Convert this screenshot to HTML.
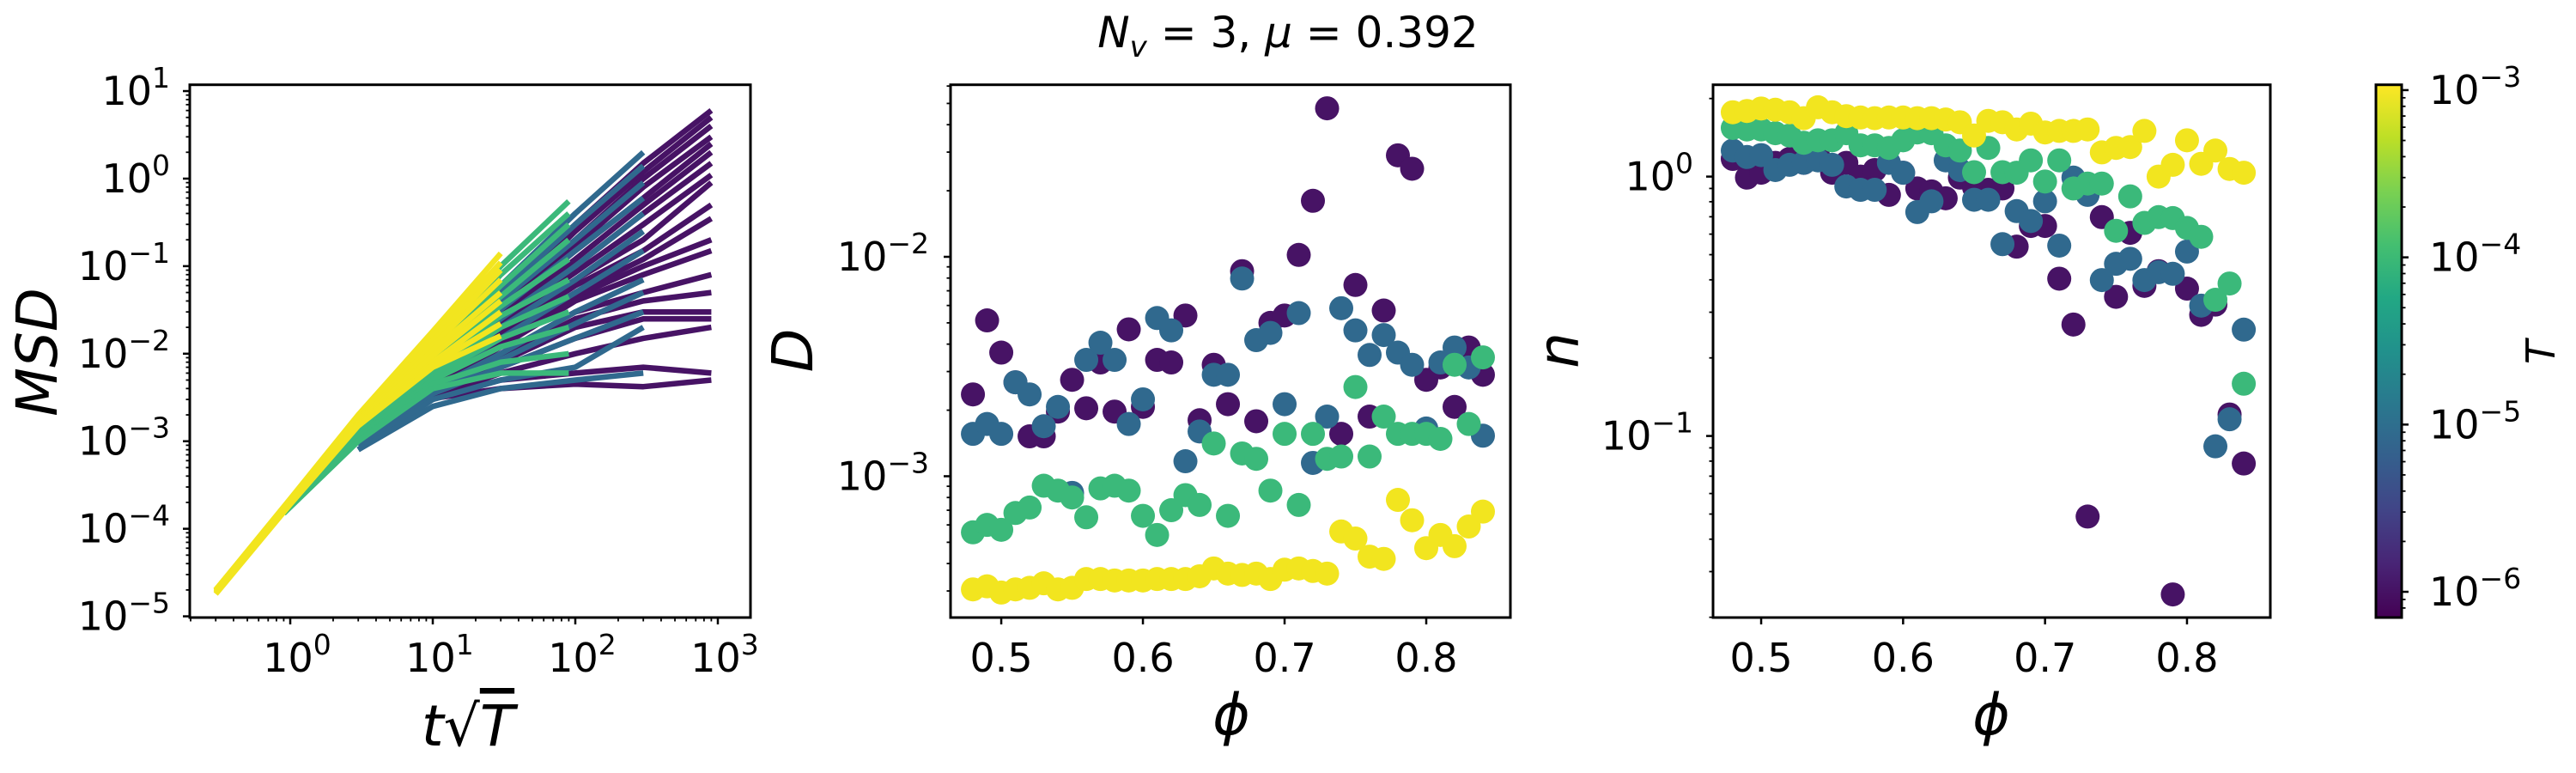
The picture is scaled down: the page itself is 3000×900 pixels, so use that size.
<!DOCTYPE html>
<html><head><meta charset="utf-8"><style>
html,body{margin:0;padding:0;background:#fff;}
svg{display:block;font-family:"DejaVu Sans","Liberation Sans",sans-serif;}
</style></head><body>
<svg id="fig" width="3000" height="900" viewBox="0 0 3000 900" xmlns="http://www.w3.org/2000/svg">
<defs>
<linearGradient id="viridis" x1="0" y1="1" x2="0" y2="0">
<stop offset="0" stop-color="#440154"/><stop offset="0.1" stop-color="#482475"/><stop offset="0.2" stop-color="#414487"/><stop offset="0.3" stop-color="#355f8d"/><stop offset="0.4" stop-color="#2a788e"/><stop offset="0.5" stop-color="#21918c"/><stop offset="0.6" stop-color="#22a884"/><stop offset="0.7" stop-color="#44bf70"/><stop offset="0.8" stop-color="#7ad151"/><stop offset="0.9" stop-color="#bddf26"/><stop offset="1" stop-color="#fde725"/>
</linearGradient>
</defs>
<text x="1500" y="55" font-size="50" text-anchor="middle"><tspan font-style="italic">N</tspan><tspan font-size="34" font-style="italic" dy="11">v</tspan><tspan dy="-11"> = 3, </tspan><tspan font-style="italic">μ</tspan><tspan> = 0.392</tspan></text>
</svg>
<script>
// ---------- data ----------
const colorT = ["#471365", "#30698e", "#3bb97a", "#f2e51f"]; // T = 1e-6,1e-5,1e-4,1e-3
const msdTimesY = [0.3, 1, 3, 10, 30];
const msdYellow = [
 [2e-5,2.2e-4,2e-3,1.8e-2,0.14],[2e-5,2.15e-4,1.95e-3,1.6e-2,0.11],[2e-5,2.1e-4,1.9e-3,1.4e-2,0.09],
 [2e-5,2.05e-4,1.8e-3,1.25e-2,0.07],[2e-5,2e-4,1.7e-3,1.1e-2,0.05],[1.95e-5,2e-4,1.65e-3,9.5e-3,0.04],
 [1.9e-5,2e-4,1.6e-3,8e-3,0.03],[1.85e-5,1.95e-4,1.55e-3,7.5e-3,0.022],[1.8e-5,1.9e-4,1.5e-3,7e-3,0.016]];
const msdTimesG = [0.9, 3, 10, 30, 90];
const msdGreen = [
 [1.6e-4,1.5e-3,1.3e-2,0.1,0.55],[1.6e-4,1.45e-3,1.15e-2,0.08,0.4],[1.6e-4,1.4e-3,1e-2,0.06,0.3],
 [1.6e-4,1.35e-3,9e-3,0.045,0.2],[1.6e-4,1.3e-3,8e-3,0.035,0.12],[1.55e-4,1.25e-3,7e-3,0.027,0.07],
 [1.5e-4,1.2e-3,6e-3,0.02,0.045],[1.5e-4,1.15e-3,5.5e-3,0.015,0.03],[1.5e-4,1.1e-3,5e-3,0.012,0.02],
 [1.5e-4,1e-3,4.5e-3,8e-3,0.01],[1.5e-4,1e-3,4e-3,6e-3,0.006]];
const msdTimesB = [3, 10, 30, 100, 300];
const msdBlue = [
 [1e-3,8e-3,0.06,0.4,2],[1e-3,7.5e-3,0.05,0.3,1.4],[1e-3,7e-3,0.04,0.2,0.9],[1e-3,6.5e-3,0.032,0.15,0.6],
 [1e-3,6e-3,0.025,0.1,0.4],[1e-3,5.5e-3,0.02,0.07,0.25],[1e-3,5e-3,0.015,0.05,0.15],
 [9e-4,4e-3,0.01,0.03,0.07],[9e-4,3.8e-3,8.5e-3,0.022,0.05],[9e-4,3.5e-3,7e-3,0.015,0.03],
 [8e-4,3e-3,5e-3,7e-3,0.02],[8e-4,2.5e-3,4e-3,5e-3,0.006]];
const msdTimesP = [9, 30, 100, 300, 900];
const msdPurple = [
 [5e-3,0.04,0.3,1.5,6],[5e-3,0.038,0.25,1.2,5],[5e-3,0.035,0.2,1,4],[4.8e-3,0.032,0.17,0.8,3],
 [4.5e-3,0.03,0.15,0.6,2.5],[4.5e-3,0.027,0.12,0.5,2],[4.5e-3,0.025,0.1,0.4,1.5],[4.2e-3,0.022,0.085,0.3,1.1],
 [4e-3,0.02,0.07,0.2,0.9],[4e-3,0.017,0.06,0.15,0.5],[4e-3,0.015,0.05,0.12,0.35],[3.8e-3,0.013,0.045,0.1,0.2],
 [3.5e-3,0.012,0.04,0.08,0.15],[3.5e-3,0.01,0.03,0.05,0.08],[3.5e-3,9e-3,0.025,0.04,0.05],
 [3.5e-3,8e-3,0.02,0.03,0.03],[3.2e-3,7e-3,0.015,0.025,0.025],[3e-3,6e-3,0.01,0.015,0.02],
 [3e-3,5e-3,6e-3,7e-3,0.006],[3e-3,4e-3,4.5e-3,4.2e-3,0.005]];

const phi = [0.48,0.49,0.50,0.51,0.52,0.53,0.54,0.55,0.56,0.57,0.58,0.59,0.60,0.61,0.62,0.63,0.64,0.65,0.66,0.67,0.68,0.69,0.70,0.71,0.72,0.73,0.74,0.75,0.76,0.77,0.78,0.79,0.80,0.81,0.82,0.83,0.84];
const dPurple = [2.36e-3,5.13e-3,3.66e-3,2.68e-3,1.52e-3,1.52e-3,1.97e-3,2.75e-3,2.04e-3,3.3e-3,1.97e-3,4.67e-3,2.07e-3,3.39e-3,3.3e-3,5.4e-3,1.8e-3,3.22e-3,2.13e-3,8.6e-3,1.78e-3,5.0e-3,5.4e-3,1.02e-2,1.8e-2,4.75e-2,1.56e-3,7.44e-3,1.87e-3,5.69e-3,2.9e-2,2.52e-2,2.75e-3,3.13e-3,2.07e-3,3.86e-3,2.9e-3];
const dBlue = [1.56e-3,1.73e-3,1.56e-3,2.68e-3,2.36e-3,1.69e-3,2.07e-3,8.4e-4,3.39e-3,4.06e-3,3.39e-3,1.73e-3,2.24e-3,5.26e-3,4.62e-3,1.17e-3,1.6e-3,2.9e-3,2.9e-3,7.96e-3,4.17e-3,4.5e-3,2.13e-3,5.54e-3,1.15e-3,1.87e-3,5.83e-3,4.62e-3,3.57e-3,4.4e-3,3.66e-3,3.22e-3,1.65e-3,3.3e-3,3.86e-3,3.13e-3,1.53e-3];
const dGreen = [5.55e-4,6.0e-4,5.7e-4,6.8e-4,7.2e-4,9.05e-4,8.6e-4,8.0e-4,6.5e-4,8.8e-4,9.05e-4,8.6e-4,6.6e-4,5.4e-4,7.0e-4,8.2e-4,7.4e-4,1.41e-3,6.6e-4,1.27e-3,1.2e-3,8.6e-4,1.56e-3,7.4e-4,1.56e-3,1.2e-3,1.23e-3,2.55e-3,1.23e-3,1.87e-3,1.56e-3,1.56e-3,1.56e-3,1.48e-3,3.22e-3,1.73e-3,3.48e-3];
const dYellow = [3.05e-4,3.15e-4,2.95e-4,3.05e-4,3.1e-4,3.25e-4,3.05e-4,3.1e-4,3.4e-4,3.4e-4,3.35e-4,3.35e-4,3.35e-4,3.4e-4,3.4e-4,3.4e-4,3.5e-4,3.8e-4,3.6e-4,3.55e-4,3.6e-4,3.4e-4,3.75e-4,3.8e-4,3.7e-4,3.6e-4,5.6e-4,5.2e-4,4.3e-4,4.2e-4,7.8e-4,6.3e-4,4.7e-4,5.4e-4,4.8e-4,5.9e-4,6.9e-4];
const nPurple = [1.17,0.991,1.035,1.13,1.17,1.13,1.21,1.035,1.13,1.0,1.06,0.85,1.035,0.9,0.877,0.825,0.991,0.908,0.889,0.9,0.537,0.645,0.645,0.404,0.269,0.0489,0.698,0.344,0.607,0.379,0.432,0.0245,0.37,0.293,0.321,0.121,0.0783];
const nBlue = [1.26,1.19,1.21,1.06,1.11,1.13,1.155,1.11,0.916,0.889,0.889,1.13,1.035,0.73,0.803,1.155,1.06,0.814,0.814,0.549,0.736,0.674,0.803,0.542,0.991,0.85,0.399,0.461,0.482,0.399,0.428,0.422,0.514,0.318,0.0912,0.116,0.257];
const nGreen = [1.54,1.52,1.52,1.47,1.44,1.35,1.38,1.38,1.47,1.32,1.32,1.29,1.38,1.48,1.47,1.32,1.26,1.04,1.29,1.04,1.035,1.155,0.957,1.155,0.9,0.94,0.94,0.618,0.839,0.663,0.698,0.692,0.634,0.586,0.335,0.387,0.159];
const nYellow = [1.77,1.79,1.83,1.81,1.77,1.68,1.85,1.77,1.71,1.69,1.68,1.69,1.69,1.68,1.68,1.66,1.62,1.44,1.64,1.62,1.52,1.6,1.48,1.5,1.5,1.52,1.24,1.29,1.30,1.5,1.0,1.11,1.38,1.12,1.26,1.07,1.035];

const xTicksLog1 = [0,1,2,3];
const yTicksLog1 = [-5,-4,-3,-2,-1,0,1];
const xTicksPhi = [0.5,0.6,0.7,0.8];
const yTicksLog2 = [-3,-2];
const yTicksLog3 = [-1,0];
const cbTicksLog = [-6,-5,-4,-3];

// ---------- helpers ----------
const NS = "http://www.w3.org/2000/svg";
const svg = document.getElementById("fig");
const TICKFS = 46, SUPFS = 33;
function mk(tag, attrs, parent) {
  const e = document.createElementNS(NS, tag);
  for (const k in attrs) e.setAttribute(k, attrs[k]);
  (parent || svg).appendChild(e);
  return e;
}
function logScale(d0, d1, r0, r1) { return v => r0 + (Math.log10(v) - d0) / (d1 - d0) * (r1 - r0); }
function linScale(d0, d1, r0, r1) { return v => r0 + (v - d0) / (d1 - d0) * (r1 - r0); }
function powLabel(parent, x, y, exp, anchor, name) {
  const t = mk("text", {x: x, y: y, "font-size": TICKFS, "text-anchor": anchor}, parent);
  
  
  const a = mk("tspan", {}, t); a.textContent = "10";
  const b = mk("tspan", {"font-size": SUPFS, dy: -20}, t); b.textContent = (exp < 0 ? "\u2212" : "") + Math.abs(exp);
  return t;
}
function frame(name) {
  const g = mk("g", {});
  
  
  return g;
}
function border(g, L, T, R, B) {
  const r = mk("rect", {x: L, y: T, width: R - L, height: B - T, fill: "none", stroke: "#000", "stroke-width": 3}, g);
  
  
}
function logYTicks(g, sy, lo, hi, L, majors, labelX) {
  for (let d = Math.floor(lo); d <= Math.ceil(hi); d++) {
    for (let m = 1; m <= 9; m++) {
      const v = Math.log10(m) + d;
      if (v < lo || v > hi) continue;
      const y = sy(Math.pow(10, v));
      const len = m === 1 ? 8 : 4.5;
      const tk = mk("line", {x1: L, x2: L - len, y1: y, y2: y, stroke: "#000", "stroke-width": m === 1 ? 2.5 : 1.8}, g);
      
      
    }
  }
  majors.forEach(e => powLabel(g, labelX, sy(Math.pow(10, e)) + 16, e, "end", "y-tick-label"));
}
function scatter(g, xs, ys, sx, sy, color, name) {
  xs.forEach((x, i) => {
    const c = mk("circle", {cx: sx(x), cy: sy(ys[i]), r: 14, fill: color}, g);
    
    
  });
}
function phiXTicks(g, sx, B) {
  xTicksPhi.forEach(v => {
    const x = sx(v);
    const tk = mk("line", {x1: x, x2: x, y1: B, y2: B + 8, stroke: "#000", "stroke-width": 2.5}, g);
    
    
    const t = mk("text", {x: x, y: 782, "font-size": TICKFS, "text-anchor": "middle"}, g);
    
    
    t.textContent = v.toFixed(1);
  });
}
function axisLabel(g, x, y, txt, rot, name) {
  const t = mk("text", {x: x, y: y, "font-size": 66, "font-style": "italic", "text-anchor": "middle",
    transform: rot ? `rotate(-90 ${x} ${y})` : ""}, g);
  
  
  t.textContent = txt;
  return t;
}

const T = 98.7, B = 719;

// ---------- panel 1: MSD ----------
(function () {
  const L = 221, R = 874;
  const sx = logScale(-0.705, 3.229, L, R);
  const sy = logScale(-5.014, 1.072, B, T);
  const g = frame("msd-panel");
  const clip = mk("clipPath", {id: "c1"}, g);
  mk("rect", {x: L, y: T, width: R - L, height: B - T}, clip);
  const lg = mk("g", {"clip-path": "url(#c1)"}, g);
  const groups = [[msdTimesP, msdPurple, colorT[0], "msd-line-T1e-6"], [msdTimesB, msdBlue, colorT[1], "msd-line-T1e-5"],
                  [msdTimesG, msdGreen, colorT[2], "msd-line-T1e-4"], [msdTimesY, msdYellow, colorT[3], "msd-line-T1e-3"]];
  groups.forEach(([ts, curves, col, name]) => {
    curves.forEach(c => {
      const d = c.map((v, i) => (i ? "L" : "M") + sx(ts[i]).toFixed(1) + "," + sy(v).toFixed(1)).join(" ");
      const p = mk("path", {d: d, fill: "none", stroke: col, "stroke-width": 6.5, "stroke-linejoin": "round"}, lg);
      
      
    });
  });
  border(g, L, T, R, B);
  logYTicks(g, sy, -5.014, 1.072, L, yTicksLog1, 198);
  for (let d = -1; d <= 3; d++) for (let m = 1; m <= 9; m++) {
    const v = Math.log10(m) + d;
    if (v < -0.705 || v > 3.229) continue;
    const x = sx(Math.pow(10, v));
    const tk = mk("line", {x1: x, x2: x, y1: B, y2: B + (m === 1 ? 8 : 4.5), stroke: "#000", "stroke-width": m === 1 ? 2.5 : 1.8}, g);
    
    
  }
  xTicksLog1.forEach(e => powLabel(g, sx(Math.pow(10, e)) + 8, 782, e, "middle", "x-tick-label"));
  axisLabel(g, 66, 410, "MSD", true, "y-axis-title-msd");
  const xl = mk("text", {x: 545, y: 868, "font-size": 66, "text-anchor": "middle"}, g);
  
  
  const a = mk("tspan", {"font-style": "italic"}, xl); a.textContent = "t";
  const b = mk("tspan", {}, xl); b.textContent = "\u221A";
  const c = mk("tspan", {"font-style": "italic", "text-decoration": "overline"}, xl); c.textContent = "T";
})();

// ---------- panel 2: D ----------
(function () {
  const L = 1107, R = 1759;
  const sx = linScale(0.4642, 0.8594, L, R);
  const sy = logScale(-3.644, -1.216, B, T);
  const g = frame("diffusion-panel");
  scatter(g, phi, dPurple, sx, sy, colorT[0], "d-point-T1e-6");
  scatter(g, phi, dBlue, sx, sy, colorT[1], "d-point-T1e-5");
  scatter(g, phi, dGreen, sx, sy, colorT[2], "d-point-T1e-4");
  scatter(g, phi, dYellow, sx, sy, colorT[3], "d-point-T1e-3");
  border(g, L, T, R, B);
  logYTicks(g, sy, -3.644, -1.216, L, yTicksLog2, 1082);
  phiXTicks(g, sx, B);
  axisLabel(g, 946, 408, "D", true, "y-axis-title-d");
  axisLabel(g, 1434, 855, "\u03D5", false, "x-axis-title-phi");
})();

// ---------- panel 3: n ----------
(function () {
  const L = 1995, R = 2644;
  const sx = linScale(0.4661, 0.8587, L, R);
  const sy = logScale(-1.70, 0.354, B, T);
  const g = frame("exponent-panel");
  scatter(g, phi, nPurple, sx, sy, colorT[0], "n-point-T1e-6");
  scatter(g, phi, nBlue, sx, sy, colorT[1], "n-point-T1e-5");
  scatter(g, phi, nGreen, sx, sy, colorT[2], "n-point-T1e-4");
  scatter(g, phi, nYellow, sx, sy, colorT[3], "n-point-T1e-3");
  border(g, L, T, R, B);
  logYTicks(g, sy, -1.70, 0.354, L, yTicksLog3, 1972);
  phiXTicks(g, sx, B);
  axisLabel(g, 1838, 408, "n", true, "y-axis-title-n");
  axisLabel(g, 2319, 855, "\u03D5", false, "x-axis-title-phi");
})();

// ---------- colorbar ----------
(function () {
  const L = 2767, R = 2797;
  const sy = logScale(-6.154, -2.968, B, T);
  const g = frame("colorbar");
  const r = mk("rect", {x: L, y: T, width: R - L, height: B - T, fill: "url(#viridis)"}, g);
  
  
  border(g, L, T, R, B);
  for (let d = -7; d <= -3; d++) for (let m = 1; m <= 9; m++) {
    const v = Math.log10(m) + d;
    if (v < -6.154 || v > -2.968) continue;
    const y = sy(Math.pow(10, v));
    const tk = mk("line", {x1: R, x2: R + (m === 1 ? 8 : 4.5), y1: y, y2: y, stroke: "#000", "stroke-width": m === 1 ? 2.5 : 1.8}, g);
    
    
  }
  cbTicksLog.forEach(e => powLabel(g, 2829, sy(Math.pow(10, e)) + 16, e, "start", "colorbar-tick-label"));
  const t = mk("text", {x: 2975, y: 410, "font-size": 46, "font-style": "italic", "text-anchor": "middle",
    transform: "rotate(-90 2975 410)"}, g);
  
  
  t.textContent = "T";
})();
</script>
</body></html>
